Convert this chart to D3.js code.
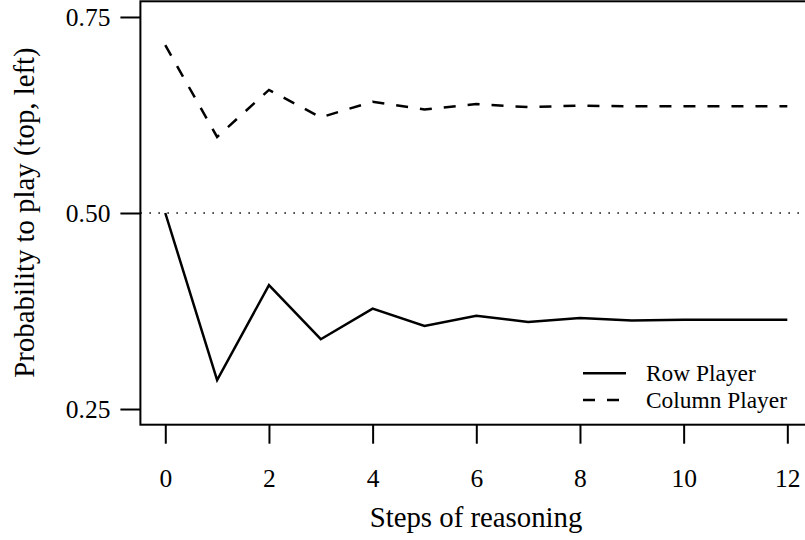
<!DOCTYPE html>
<html>
<head>
<meta charset="utf-8">
<script src="https://cdn.jsdelivr.net/npm/d3@7"></script>
<style>
  body { margin: 0; background: #fff; }
  text { font-family: "Liberation Serif", "Times New Roman", serif; fill: #000; }
</style>
</head>
<body>
<svg id="chart"></svg>
<script>
// Data
const steps = [0, 1, 2, 3, 4, 5, 6, 7, 8, 9, 10, 11, 12];
const rowPlayer = [0.500, 0.287, 0.408, 0.339, 0.378, 0.356, 0.369, 0.361, 0.366, 0.363, 0.364, 0.364, 0.364];
const columnPlayer = [0.714, 0.597, 0.657, 0.622, 0.642, 0.632, 0.639, 0.635, 0.637, 0.636, 0.636, 0.636, 0.636];
const xTicks = [0, 2, 4, 6, 8, 10, 12];
const yTicks = [0.25, 0.50, 0.75];
const seriesNames = ["Row Player", "Column Player"];

const width = 805, height = 540;

const svg = d3.select("#chart")
    .attr("width", width)
    .attr("height", height);

// R-style axes: limits padded by 4%
const x = d3.scaleLinear().domain([-0.48, 12.48]).range([140.4, 812.2]);
const y = d3.scaleLinear().domain([0.23, 0.77]).range([424.7, 1.3]);

const dash = "12,12";

// reference line at 0.5
svg.append("line")
    .attr("x1", x(-0.48)).attr("x2", x(12.48))
    .attr("y1", y(0.5)).attr("y2", y(0.5))
    .attr("stroke", "#000")
    .attr("stroke-width", 1.3)
    .attr("stroke-dasharray", "1.5,7.5");

// lines
const line = d3.line()
    .x((d, i) => x(steps[i]))
    .y(d => y(d));

svg.append("path")
    .datum(rowPlayer)
    .attr("d", line)
    .attr("fill", "none")
    .attr("stroke", "#000")
    .attr("stroke-width", 2.5);

svg.append("path")
    .datum(columnPlayer)
    .attr("d", line)
    .attr("fill", "none")
    .attr("stroke", "#000")
    .attr("stroke-width", 2.5)
    .attr("stroke-dasharray", dash);

// box (right side falls outside the picture)
svg.append("rect")
    .attr("x", x(-0.48)).attr("y", y(0.77))
    .attr("width", x(12.48) - x(-0.48))
    .attr("height", y(0.23) - y(0.77))
    .attr("fill", "none")
    .attr("stroke", "#000")
    .attr("stroke-width", 2);

// x axis
const xAxis = svg.append("g")
    .attr("transform", `translate(0,${y(0.23)})`)
    .call(d3.axisBottom(x).tickValues(xTicks).tickSize(19).tickPadding(0).tickFormat(d3.format("d")));
xAxis.select(".domain").remove();
xAxis.selectAll(".tick line").attr("stroke-width", 2);
xAxis.selectAll(".tick text")
    .attr("y", 62)
    .attr("dy", null)
    .style("font-size", "25.5px")
    .style("font-family", "Liberation Serif");

// y axis
const yAxis = svg.append("g")
    .attr("transform", `translate(${x(-0.48)},0)`)
    .call(d3.axisLeft(y).tickValues(yTicks).tickSize(20).tickPadding(10).tickFormat(d3.format(".2f")));
yAxis.select(".domain").remove();
yAxis.selectAll(".tick line").attr("stroke-width", 2);
yAxis.selectAll(".tick text")
    .attr("dy", "0.33em")
    .style("font-size", "25.5px")
    .style("font-family", "Liberation Serif");

// axis titles
svg.append("text")
    .attr("x", 476)
    .attr("y", 526.5)
    .attr("text-anchor", "middle")
    .style("font-size", "28.8px")
    .text("Steps of reasoning");

svg.append("text")
    .attr("transform", "rotate(-90)")
    .attr("x", -212.5)
    .attr("y", 33.5)
    .attr("text-anchor", "middle")
    .style("font-size", "28.8px")
    .text("Probability to play (top, left)");

// legend
const legend = svg.append("g");
seriesNames.forEach((name, i) => {
    const ly = 373.3 + i * 26.7;
    legend.append("line")
        .attr("x1", 583).attr("x2", 626)
        .attr("y1", ly).attr("y2", ly)
        .attr("stroke", "#000")
        .attr("stroke-width", 2.5)
        .attr("stroke-dasharray", i === 0 ? null : dash);
    legend.append("text")
        .attr("x", 646)
        .attr("y", ly)
        .attr("dy", "0.33em")
        .style("font-size", "23.4px")
        .text(name);
});
</script>
</body>
</html>
